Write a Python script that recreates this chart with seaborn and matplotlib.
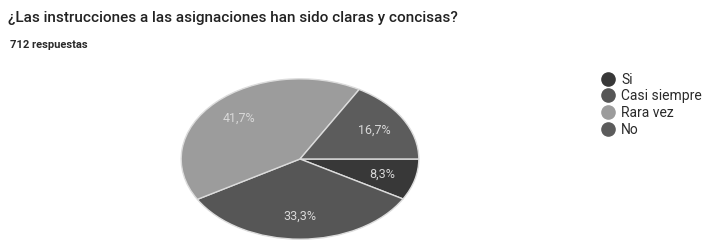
import matplotlib
matplotlib.use("Agg")
import matplotlib.pyplot as plt
import seaborn as sns
from matplotlib.lines import Line2D

# data
categorias = ["Si", "Casi siempre", "Rara vez", "No"]
porcentajes = [8.3, 33.3, 41.7, 16.7]
colores = ["#383838", "#565656", "#9c9c9c", "#5c5c5c"]
titulo = "¿Las instrucciones a las asignaciones han sido claras y concisas?"
subtitulo = "712 respuestas"

sns.set_theme(style="white")
plt.rcParams['font.family'] = ['Roboto', 'DejaVu Sans']

fig = plt.figure(figsize=(7.14, 2.44), dpi=100)
fig.patch.set_facecolor("white")

fig.text(8 / 714, 1 - 18 / 244, titulo, fontsize=11, color="#222222",
         va="center", ha="left", fontweight="medium")
fig.text(10 / 714, 1 - 45 / 244, subtitulo, fontsize=8, color="#2a2a2a",
         va="center", ha="left", fontweight="bold")

ax = fig.add_axes([180 / 714, 4 / 244, 240 / 714, 162 / 244])
wedges, textos, autotextos = ax.pie(
    porcentajes, colors=colores, startangle=0, counterclock=False,
    autopct=lambda p: f"{p:.1f}%".replace(".", ","), pctdistance=0.72,
    wedgeprops=dict(edgecolor="#dcdcdc", linewidth=1),
    textprops=dict(color="#d8d8d8", fontsize=9))
ax.set_aspect("auto")
ax.set_xlim(-1.01, 1.01)
ax.set_ylim(-1.01, 1.01)

handles = [Line2D([0], [0], marker="o", linestyle="", markersize=9.5,
                  markerfacecolor=c, markeredgecolor=c) for c in colores]
fig.legend(handles, categorias, loc="upper left",
           bbox_to_anchor=(594 / 714, 1 - 67 / 244), frameon=False,
           fontsize=10, handletextpad=0.35, labelspacing=0.2,
           handlelength=1.2, labelcolor="#2a2a2a", borderaxespad=0)

fig.savefig("out.png", dpi=100, facecolor="white")
